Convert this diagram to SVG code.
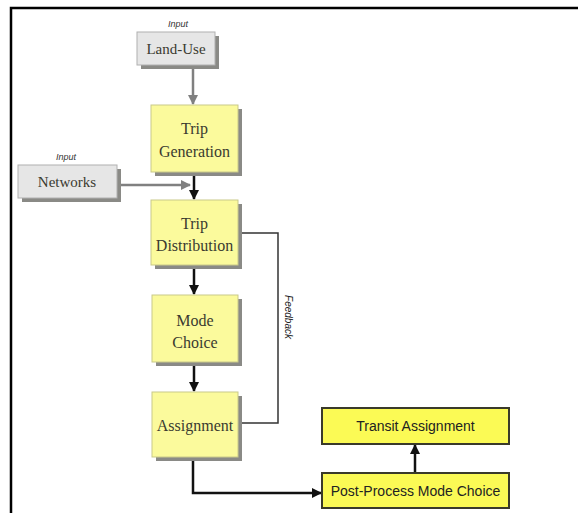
<svg xmlns="http://www.w3.org/2000/svg" width="578" height="513" viewBox="0 0 578 513">
<style>
.shadow{fill:#8a8a86}
.yb{fill:#fbfa9c;stroke:#c9c98a;stroke-width:1}
.gb{fill:#e6e6e6;stroke:#b0b0b0;stroke-width:1}
.bb{fill:#fbfa55;stroke:#3a3a2a;stroke-width:2}
.t{font-family:"Liberation Serif",serif;font-size:16px;fill:#3a3a30;text-anchor:middle}
.in{font-family:"Liberation Sans",sans-serif;font-size:9px;font-style:italic;fill:#333;text-anchor:middle}
.s{font-family:"Liberation Sans",sans-serif;font-size:14px;fill:#222;text-anchor:middle}
.k{stroke:#111;stroke-width:2.5;fill:none}
.g{stroke:#808080;stroke-width:2.5;fill:none}
.f{stroke:#333;stroke-width:1.5;fill:none}
</style>
<defs>
<marker id="ak" viewBox="0 0 10 10" refX="9" refY="5" markerWidth="4" markerHeight="4" orient="auto"><path d="M0,0 L10,5 L0,10 z" fill="#111"/></marker>
<marker id="ag" viewBox="0 0 10 10" refX="9" refY="5" markerWidth="4" markerHeight="4" orient="auto"><path d="M0,0 L10,5 L0,10 z" fill="#808080"/></marker>
</defs>
<rect width="578" height="513" fill="#fff"/>
<path d="M11,513 V8 H578" stroke="#000" stroke-width="2.5" fill="none"/>

<g id="connectors">
<path class="g" d="M193,69 V104" marker-end="url(#ag)"/>
<path class="g" d="M121,185 H190" marker-end="url(#ag)"/>
<path class="k" d="M194,176 V199" marker-end="url(#ak)"/>
<path class="k" d="M194,269 V294" marker-end="url(#ak)"/>
<path class="k" d="M194,366 V391" marker-end="url(#ak)"/>
<path class="f" d="M242,423 H278 V233 H242"/>
<text x="285" y="317" transform="rotate(90 285 317)" class="in" style="font-size:10px;fill:#222">Feedback</text>
<path class="k" d="M193,461 V493 H321" marker-end="url(#ak)"/>
<path class="k" d="M415,472 V445" marker-end="url(#ak)"/>
</g>

<g id="landuse">
<text x="178" y="27" class="in">Input</text>
<rect x="141" y="36" width="78" height="33" class="shadow"/>
<rect x="137" y="32" width="78" height="33" class="gb"/>
<text x="176" y="54" class="t" style="font-size:15px">Land-Use</text>
</g>

<g id="networks">
<text x="66" y="160" class="in">Input</text>
<rect x="22" y="169" width="99" height="33" class="shadow"/>
<rect x="18" y="165" width="99" height="33" class="gb"/>
<text x="67" y="187" class="t" style="font-size:15px">Networks</text>
</g>

<g id="tripgen">
<rect x="155" y="109" width="87" height="67" class="shadow"/>
<rect x="151" y="105" width="87" height="67" class="yb"/>
<text x="194.5" y="134" class="t">Trip</text>
<text x="194.5" y="157" class="t">Generation</text>
</g>

<g id="tripdist">
<rect x="155" y="204" width="87" height="65" class="shadow"/>
<rect x="151" y="200" width="87" height="65" class="yb"/>
<text x="194.5" y="229" class="t">Trip</text>
<text x="194.5" y="251" class="t">Distribution</text>
</g>

<g id="modechoice">
<rect x="156" y="299" width="86" height="67" class="shadow"/>
<rect x="152" y="295" width="86" height="67" class="yb"/>
<text x="195" y="326" class="t">Mode</text>
<text x="195" y="348" class="t">Choice</text>
</g>

<g id="assignment">
<rect x="156" y="396" width="86" height="65" class="shadow"/>
<rect x="152" y="392" width="86" height="65" class="yb"/>
<text x="195" y="431" class="t">Assignment</text>
</g>

<g id="transit">
<rect x="322" y="408" width="187" height="36" class="bb"/>
<text x="415.5" y="431" class="s">Transit Assignment</text>
</g>

<g id="ppmc">
<rect x="322" y="473" width="187" height="35" class="bb"/>
<text x="415.5" y="496" class="s">Post-Process Mode Choice</text>
</g>
</svg>
